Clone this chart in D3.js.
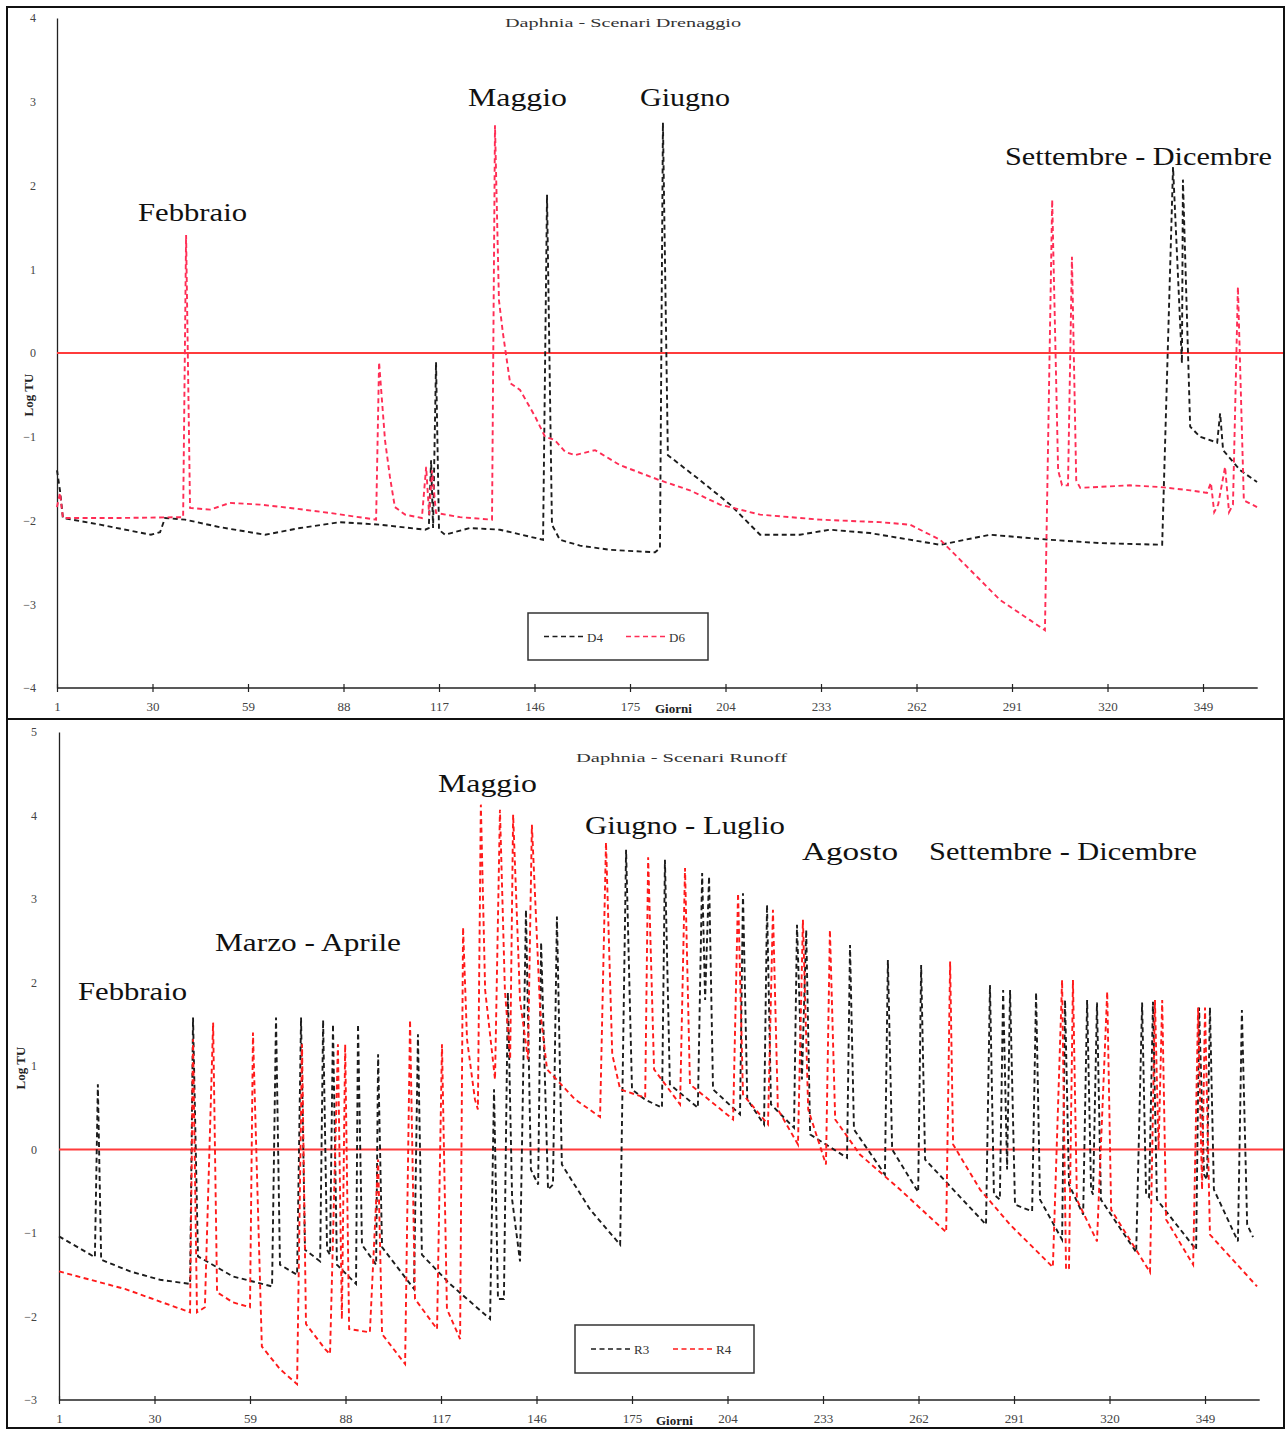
<!DOCTYPE html>
<html><head><meta charset="utf-8">
<script src="https://cdn.jsdelivr.net/npm/d3@7"></script>
<style>
body{margin:0;background:#fff;}
svg{display:block;}
</style></head>
<body>
<svg id="c" width="1287" height="1430"></svg>
<script>
// ---------- DATA ----------
const dayTicks = [1,30,59,88,117,146,175,204,233,262,291,320,349];
const topYTicks = [-4,-3,-2,-1,0,1,2,3,4];
const botYTicks = [-3,-2,-1,0,1,2,3,4,5];

// Top panel: Daphnia - Scenari Drenaggio  [day, Log TU]
const d4 = [[1,-1.40],[1.9,-1.64],[2.8,-1.97],[14.1,-2.05],[29.5,-2.17],[32.3,-2.14],[33.8,-1.97],[39.9,-1.99],[50.5,-2.08],[64.2,-2.17],[74.8,-2.09],[86.9,-2.02],[99.1,-2.05],[112.8,-2.11],[113.9,-2.09],[114.6,-1.28],[115.2,-2.09],[116.1,-0.11],[117,-2.11],[118.8,-2.17],[126.4,-2.09],[135.5,-2.11],[148.6,-2.23],[149.8,1.89],[151.3,-2.05],[153.7,-2.23],[159.8,-2.30],[168.9,-2.35],[182.6,-2.38],[184.1,-2.33],[185,2.75],[186.5,-1.22],[196.3,-1.52],[205.4,-1.81],[214.5,-2.17],[226.6,-2.17],[235.7,-2.11],[247.9,-2.15],[269.2,-2.29],[284.3,-2.17],[302.5,-2.23],[317.7,-2.27],[336.6,-2.29],[339.9,2.22],[342.6,-0.12],[342.9,2.07],[345.1,-0.88],[348.1,-1.0],[353.3,-1.07],[354.2,-0.72],[355.1,-1.16],[360.3,-1.40],[365.4,-1.54]];
const d6 = [[1,-1.84],[1.9,-1.67],[2.8,-1.97],[20.1,-1.97],[39.3,-1.96],[40.2,1.41],[41.4,-1.85],[47.5,-1.87],[53.5,-1.79],[62.6,-1.81],[71.8,-1.85],[83.9,-1.91],[97.9,-1.99],[98.8,-0.11],[100.6,-1.04],[102.1,-1.48],[103.6,-1.84],[106.7,-1.93],[111.8,-1.97],[113.1,-1.36],[114,-1.93],[114.9,-1.40],[116.1,-1.91],[123.4,-1.96],[133.1,-1.99],[134,2.72],[135.2,0.63],[136.4,0.24],[138.6,-0.36],[141.6,-0.44],[146.2,-0.76],[149.2,-1.00],[152.2,-1.04],[155.3,-1.18],[158.3,-1.22],[164.4,-1.16],[172,-1.34],[184.1,-1.52],[193.2,-1.64],[202.3,-1.81],[214.5,-1.93],[232.7,-1.99],[250.9,-2.02],[260,-2.05],[269.2,-2.23],[278.3,-2.59],[287.4,-2.95],[296.5,-3.19],[301,-3.31],[303.2,1.83],[305,-1.40],[306.2,-1.58],[308,-1.58],[309.2,1.15],[310.5,-1.52],[311.7,-1.61],[326.8,-1.58],[335.9,-1.60],[345.1,-1.64],[350.2,-1.67],[351.4,-1.55],[352.4,-1.90],[353.6,-1.81],[355.7,-1.36],[356.9,-1.90],[358.1,-1.81],[359.6,0.79],[361.4,-1.76],[365.4,-1.84]];

// Bottom panel: Daphnia - Scenari Runoff  [day, Log TU]
const r3 = [[1,-1.04],[11.9,-1.29],[12.8,0.78],[13.8,-1.32],[22.6,-1.46],[31.7,-1.56],[40.8,-1.61],[41.7,1.58],[43.2,-1.28],[53.8,-1.52],[65.7,-1.64],[66.9,1.58],[68.1,-1.38],[73.3,-1.50],[74.5,1.58],[75.7,-1.20],[80.3,-1.34],[81.2,1.55],[82.4,-1.20],[83.3,-1.26],[84.2,1.50],[85.4,-1.38],[91.2,-1.61],[91.8,1.50],[93,-1.14],[97.3,-1.38],[97.9,1.14],[99.1,-1.17],[108.8,-1.67],[110,1.38],[111.2,-1.26],[119.7,-1.61],[131.9,-2.03],[133.1,0.72],[134.3,-1.79],[136.1,-1.79],[137.3,1.88],[138.6,-0.60],[141,-1.34],[142.8,2.87],[144.3,-0.24],[146.5,-0.42],[147.4,2.48],[149.5,-0.48],[151,-0.42],[152.2,2.79],[153.7,-0.18],[162.3,-0.72],[171.4,-1.14],[173.2,3.59],[175,0.72],[178.9,0.60],[184.1,0.50],[185,3.47],[186.5,0.78],[195,0.50],[196.3,3.31],[197.2,1.79],[198.4,3.27],[199.6,0.72],[207.8,0.42],[208.7,3.07],[210,0.60],[215.1,0.30],[216,2.93],[217.2,0.54],[224.2,0.26],[225.1,2.69],[226.6,0.84],[227.9,2.63],[229.1,0.18],[240.3,-0.10],[241.2,2.45],[242.4,0.24],[251.8,-0.30],[252.7,2.27],[254,0.00],[261.9,-0.51],[262.8,2.21],[264,-0.12],[282.5,-0.90],[283.7,1.97],[284.9,-0.54],[286.7,-0.60],[287.7,1.91],[288.9,-0.24],[289.8,1.91],[291.3,-0.66],[296.5,-0.74],[297.7,1.88],[298.9,-0.60],[305.6,-1.08],[306.5,1.79],[307.7,-0.42],[312,-0.78],[313.2,1.79],[314.4,-0.48],[315,-0.54],[316.2,1.76],[317.4,-0.60],[328.1,-1.23],[329.9,1.76],[331.1,-0.54],[332,-0.57],[333.2,1.77],[334.4,-0.60],[346.3,-1.20],[347.2,1.70],[348.7,-0.30],[349.6,-0.36],[350.5,1.70],[351.7,-0.48],[359,-1.10],[360.2,1.67],[361.8,-0.90],[363.6,-1.05]];
const r4 = [[1,-1.46],[21,-1.67],[40.8,-1.95],[41.7,1.32],[42.9,-1.95],[45.3,-1.89],[47.8,1.52],[49,-1.71],[53.8,-1.83],[59,-1.89],[59.9,1.40],[62.6,-2.36],[68.1,-2.63],[73.3,-2.81],[74.8,1.26],[76,-2.09],[81.8,-2.39],[83.3,-2.45],[85.7,1.26],[86.9,-2.03],[87.9,1.26],[89.1,-2.15],[95.4,-2.19],[97.9,-0.12],[99.1,-2.21],[106.1,-2.57],[107.6,1.55],[109.1,-1.79],[115.8,-2.15],[117.3,1.26],[118.8,-1.91],[122.8,-2.27],[123.7,2.66],[124.9,1.32],[127.3,0.60],[128.2,0.48],[129.1,4.13],[130.4,1.91],[133.4,0.84],[134.9,4.07],[136.4,1.91],[138,1.08],[138.9,4.01],[141,1.79],[143.4,1.08],[144.6,3.89],[147.1,1.67],[149.2,0.96],[157.7,0.60],[165.3,0.39],[167.1,3.68],[169,1.14],[171.4,0.72],[179,0.62],[179.9,3.50],[181.7,0.96],[189.6,0.54],[191.1,3.37],[192.6,0.78],[205.7,0.36],[207.2,3.07],[208.7,0.66],[216.3,0.30],[217.8,2.87],[219.3,0.48],[225.4,0.06],[226.9,2.75],[228.5,0.48],[233.9,-0.18],[235.1,2.63],[236.7,0.36],[244.2,-0.06],[256.4,-0.48],[270.4,-0.99],[271.6,2.25],[272.5,0.06],[280.7,-0.48],[289.8,-0.90],[302.8,-1.41],[305.6,2.03],[306.8,-1.44],[307.7,-1.42],[308.9,2.03],[310.1,-0.60],[316.2,-1.10],[319.3,1.89],[320.5,-0.72],[332.3,-1.47],[333.8,1.79],[334.9,0.0],[336,1.79],[337.2,-0.84],[345.4,-1.38],[346.9,1.70],[348.1,-0.48],[349,1.70],[350.5,-1.02],[364.8,-1.64]];

const topLabels = [
  {t:"Febbraio", x0:138, x1:247, y:221},
  {t:"Maggio", x0:468, x1:567, y:106},
  {t:"Giugno", x0:640, x1:730, y:106},
  {t:"Settembre - Dicembre", x0:1005, x1:1272, y:165}
];
const botLabels = [
  {t:"Febbraio", x0:78, x1:187, y:1000},
  {t:"Marzo - Aprile", x0:215, x1:401, y:951},
  {t:"Maggio", x0:438, x1:537, y:792},
  {t:"Giugno - Luglio", x0:585, x1:785, y:834},
  {t:"Agosto", x0:802, x1:898, y:860},
  {t:"Settembre - Dicembre", x0:929, x1:1197, y:860}
];

// ---------- DRAW ----------
const svg = d3.select("#c");
const SERIF = "'Liberation Serif','DejaVu Serif',serif";
const BLACK = "#1c1c1c", RED = "#ff2d55", RED2 = "#ff1a1a", ZERO = "#ff3b3b";

function panel(cfg){
  const g = svg.append("g");
  g.append("rect").attr("x",cfg.frame[0]).attr("y",cfg.frame[1])
    .attr("width",cfg.frame[2]).attr("height",cfg.frame[3])
    .attr("fill","none").attr("stroke","#111").attr("stroke-width",2);

  const x = d3.scaleLinear().domain([1,365]).range(cfg.xr);
  const y = d3.scaleLinear().domain(cfg.yd).range(cfg.yr);

  g.append("text").text(cfg.title).attr("x",cfg.titleX0).attr("y",cfg.titleY)
    .attr("textLength",cfg.titleX1-cfg.titleX0).attr("lengthAdjust","spacingAndGlyphs")
    .attr("font-family",SERIF).attr("font-size",12).attr("fill","#333");

  const ya = g.append("g").attr("transform",`translate(${cfg.xr[0]},0)`)
    .call(d3.axisLeft(y).tickValues(cfg.yticks).tickSize(0).tickPadding(cfg.yPad).tickFormat(d3.format("d")));
  ya.select(".domain").attr("stroke","#222").attr("stroke-width",1.3);
  ya.selectAll("text").attr("font-family",SERIF).attr("font-size",12).attr("fill","#444");

  const xa = g.append("g").attr("transform",`translate(0,${cfg.yr[0]})`)
    .call(d3.axisBottom(x).tickValues(dayTicks).tickSizeInner(0).tickSizeOuter(0).tickPadding(14));
  xa.select(".domain").attr("stroke","#222").attr("stroke-width",1.3)
    .attr("d",`M${cfg.xr[0]},0H${cfg.xr[1]+2}`);
  xa.selectAll(".tick").append("line").attr("y1",-4).attr("y2",4).attr("stroke","#222").attr("stroke-width",1.2);
  xa.selectAll("text").attr("font-family",SERIF).attr("font-size",13).attr("fill","#444");

  g.append("text").text("Giorni").attr("x",cfg.giorniX).attr("y",cfg.yr[0]+25)
    .attr("font-family",SERIF).attr("font-size",13).attr("font-weight","bold").attr("fill","#222");

  g.append("text").text("Log TU")
    .attr("transform",`translate(${cfg.ylabX},${cfg.ylabY}) rotate(-90)`)
    .attr("text-anchor","middle").attr("font-family",SERIF).attr("font-size",13)
    .attr("font-weight","bold").attr("fill","#222");

  g.append("line").attr("x1",cfg.xr[0]).attr("x2",cfg.frame[0]+cfg.frame[2]-1)
    .attr("y1",y(0)).attr("y2",y(0)).attr("stroke",ZERO).attr("stroke-width",1.8);

  const line = d3.line().x(d=>x(d[0])).y(d=>y(d[1]));
  cfg.series.forEach(s=>{
    g.append("path").datum(s.data).attr("d",line).attr("fill","none")
      .attr("stroke",s.color).attr("stroke-width",1.9).attr("stroke-dasharray","5,3.5");
  });

  cfg.labels.forEach(l=>{
    g.append("text").text(l.t).attr("x",l.x0).attr("y",l.y)
      .attr("textLength",l.x1-l.x0).attr("lengthAdjust","spacingAndGlyphs")
      .attr("font-family",SERIF).attr("font-size",26).attr("fill","#111");
  });

  const L = cfg.legend;
  g.append("rect").attr("x",L.x).attr("y",L.y).attr("width",L.w).attr("height",L.h)
    .attr("fill","#fff").attr("stroke","#333").attr("stroke-width",1.5);
  cfg.series.forEach((s,i)=>{
    const lx = L.x + 16 + i*82, ly = L.y + L.h/2;
    g.append("line").attr("x1",lx).attr("x2",lx+42).attr("y1",ly).attr("y2",ly)
      .attr("stroke",s.color).attr("stroke-width",1.6).attr("stroke-dasharray","5,3.5");
    g.append("text").text(s.name).attr("x",lx+43).attr("y",ly+5)
      .attr("font-family",SERIF).attr("font-size",13).attr("fill","#333");
  });
}

panel({
  frame:[7,7,1277,712], xr:[57,1255.7], yd:[-4,4], yr:[688,18], yticks:topYTicks, yPad:21,
  title:"Daphnia - Scenari Drenaggio", titleX0:505, titleX1:741, titleY:27,
  giorniX:655, ylabX:33, ylabY:395,
  series:[{name:"D4",data:d4,color:BLACK},{name:"D6",data:d6,color:RED}],
  labels:topLabels, legend:{x:528,y:613,w:180,h:47}
});
panel({
  frame:[7,719,1277,709], xr:[59,1257.7], yd:[-3,5], yr:[1400,732], yticks:botYTicks, yPad:22,
  title:"Daphnia - Scenari Runoff", titleX0:576, titleX1:787, titleY:762,
  giorniX:656, ylabX:25, ylabY:1068,
  series:[{name:"R3",data:r3,color:BLACK},{name:"R4",data:r4,color:RED2}],
  labels:botLabels, legend:{x:575,y:1325,w:179,h:48}
});
</script>
</body></html>
